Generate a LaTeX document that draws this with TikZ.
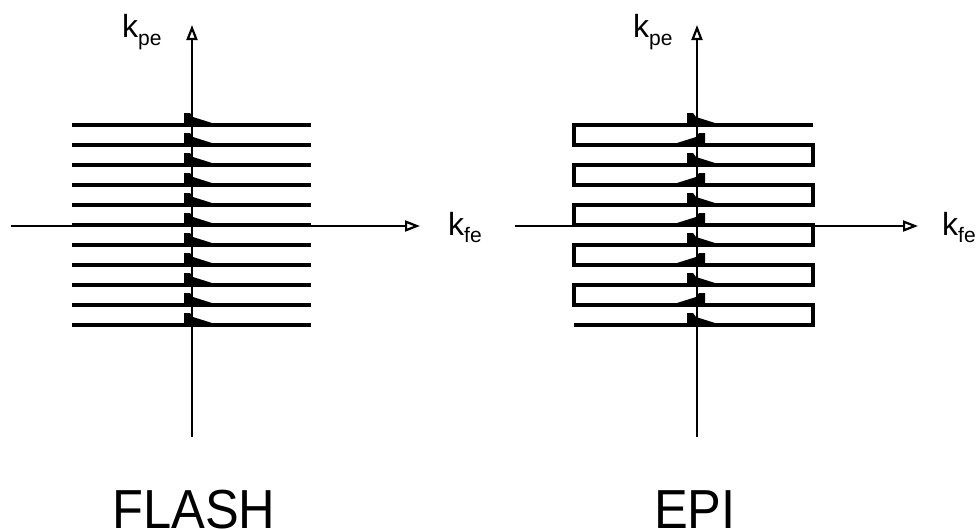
\documentclass[tikz,border=0pt]{standalone}
\usepackage{fontspec}
\setmainfont{Liberation Sans}
\usetikzlibrary{arrows.meta}
\tikzset{
  axis/.style={line width=1.4pt,-{Triangle[open,length=15pt,width=11pt,line width=2.2pt]}},
  traj/.style={line width=3.2pt},
  lbl/.style={font=\fontsize{32}{32}\selectfont, inner sep=0pt, anchor=base west},
  title/.style={font=\fontsize{55}{55}\selectfont, inner sep=0pt, anchor=base west},
  halfarrow/.pic={\fill (-8,-12) -- (-2,-12) -- (1,-8) -- (20,-2) -- (20,1) -- (-8,1) -- cycle;}
}
\begin{document}
\begin{tikzpicture}[x=1pt,y=-1pt]
\useasboundingbox (0,0) rectangle (978,528);
% ---------- FLASH ----------
\coordinate (fb) at (192,437);
\coordinate (ft) at (192,25);
\coordinate (fl) at (11,226);
\coordinate (fr) at (420,226);
\foreach \i in {0,...,10}{
  \coordinate (fa\i) at (72,125+20*\i);
  \coordinate (fz\i) at (311,125+20*\i);
  \draw[traj] (fa\i) -- (fz\i);
  \pic at (192,125+20*\i) {halfarrow};
}
\draw[axis] (fb) -- (ft);
\draw[axis] (fl) -- (fr);
\node[lbl] (kpe1) at (122,37) {k\raisebox{-0.25em}{\fontsize{21}{21}\selectfont pe}};
\node[lbl] (kfe1) at (448,235) {k\raisebox{-0.22em}{\fontsize{21}{21}\selectfont fe}};
\node[title] (flash) at (112,528) {\scalebox{0.92}[1]{FLASH}};
% ---------- EPI ----------
\coordinate (eb) at (697,437);
\coordinate (et) at (697,25);
\coordinate (el) at (515,226);
\coordinate (er) at (918,226);
\draw[traj,line join=miter]
  (574,325) -- (813,325) -- (813,305) -- (574,305) -- (574,285)
  -- (813,285) -- (813,265) -- (574,265) -- (574,245)
  -- (813,245) -- (813,225) -- (574,225) -- (574,205)
  -- (813,205) -- (813,185) -- (574,185) -- (574,165)
  -- (813,165) -- (813,145) -- (574,145) -- (574,125) -- (813,125);
\foreach \i in {0,2,...,10}{
  \pic at (695,125+20*\i) {halfarrow};
}
\foreach \i in {1,3,...,9}{
  \pic[xscale=-1] at (697,125+20*\i) {halfarrow};
}
\draw[axis] (eb) -- (et);
\draw[axis] (el) -- (er);
\node[lbl] (kpe2) at (633,37) {k\raisebox{-0.25em}{\fontsize{21}{21}\selectfont pe}};
\node[lbl] (kfe2) at (942,235) {k\raisebox{-0.22em}{\fontsize{21}{21}\selectfont fe}};
\node[title] (epi) at (654,528) {\scalebox{0.92}[1]{EPI}};
\end{tikzpicture}
\end{document}
